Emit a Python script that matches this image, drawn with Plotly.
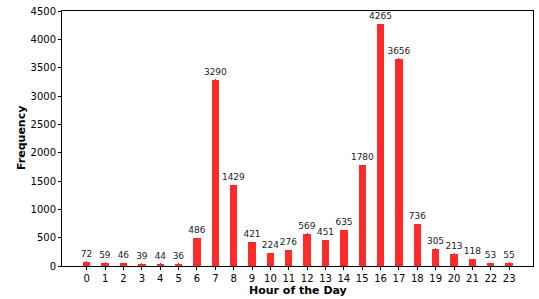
import plotly.graph_objects as go

hours = list(range(24))
freq = [72, 59, 46, 39, 44, 36, 486, 3290, 1429, 421, 224, 276, 569, 451, 635,
        1780, 4265, 3656, 736, 305, 213, 118, 53, 55]
tick_labels = [str(h) for h in hours]

fig = go.Figure(go.Bar(
    x=hours, y=freq, width=0.4,
    marker=dict(color="#ff2a2a", line=dict(width=0)),
    text=[str(v) for v in freq], textposition="outside",
    textfont=dict(family="DejaVu Sans", size=9, color="#222"),
    cliponaxis=False,
    error_y=dict(type="data", array=[0]*24, visible=True, color="#555", thickness=1, width=0.5),
))
fig.update_layout(
    width=539, height=299,
    margin=dict(l=62, r=6, t=11, b=33),
    paper_bgcolor="white", plot_bgcolor="white",
    font=dict(family="DejaVu Sans", size=10, color="black"),
    showlegend=False,
    bargap=0,
    uniformtext=dict(minsize=9, mode="show"),
    annotations=[
        dict(text="<b>Hour of the Day</b>", xref="paper", yref="paper", x=0.5, y=0,
             yshift=-16, xanchor="center", yanchor="top", showarrow=False,
             font=dict(size=11)),
        dict(text="<b>Frequency</b>", xref="paper", yref="paper", x=0, y=0.5,
             xshift=-32, xanchor="right", yanchor="middle", textangle=-90, showarrow=False,
             font=dict(size=11)),
    ],
)
fig.update_xaxes(
    range=[-1.35, 24.3], tickvals=hours, ticktext=tick_labels, automargin=False,
    showline=True, linecolor="black", linewidth=1, mirror=True,
    ticks="outside", ticklen=3, tickcolor="black", showgrid=False, zeroline=False,
)
fig.update_yaxes(
    range=[0, 4500], dtick=500, automargin=False,
    showline=True, linecolor="black", linewidth=1, mirror=True,
    ticks="outside", ticklen=3, tickcolor="black", showgrid=False, zeroline=False,
)
fig.write_html("out.html", post_script="document.body.style.margin='0';",
               config={"displayModeBar": False})
